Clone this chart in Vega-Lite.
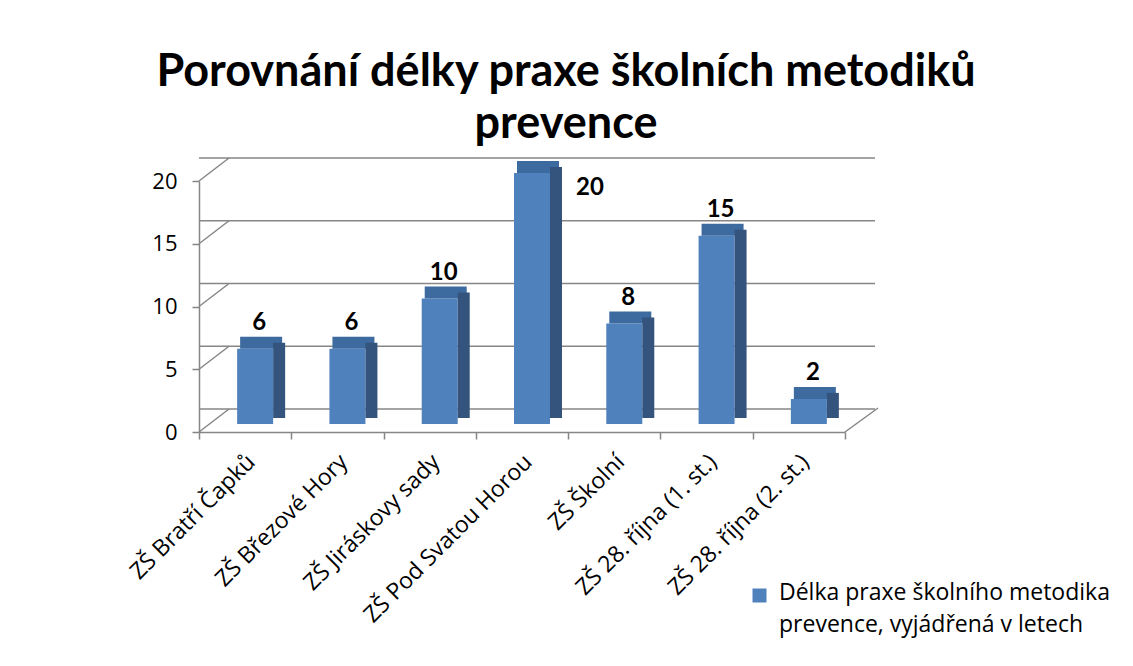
{
  "$schema": "https://vega.github.io/schema/vega-lite/v6.json",
  "autosize": {"type": "none"},
  "width": 646,
  "height": 251,
  "padding": {"left": 199, "top": 181, "right": 288, "bottom": 234},
  "background": "white",
  "title": {
    "text": ["Porovnání délky praxe školních metodiků", "prevence"],
    "font": "Lato",
    "fontSize": 45,
    "fontWeight": "bold",
    "color": "black",
    "lineHeight": 52,
    "anchor": "middle",
    "dx": 44,
    "offset": 10
  },
  "config": {
    "view": {"stroke": null},
    "font": "Open Sans",
    "axis": {"labelFont": "Open Sans", "labelColor": "black", "labelFontSize": 23, "domainColor": "#868686", "tickColor": "#868686", "domainWidth": 1.5, "tickWidth": 1.5}
  },
  "datasets": {
    "skoly": [
      {"skola": "ZŠ Bratří Čapků", "roky": 6, "serie": "Délka praxe"},
      {"skola": "ZŠ Březové Hory", "roky": 6, "serie": "Délka praxe"},
      {"skola": "ZŠ Jiráskovy sady", "roky": 10, "serie": "Délka praxe"},
      {"skola": "ZŠ Pod Svatou Horou", "roky": 20, "serie": "Délka praxe"},
      {"skola": "ZŠ Školní", "roky": 8, "serie": "Délka praxe"},
      {"skola": "ZŠ 28. října (1. st.)", "roky": 15, "serie": "Délka praxe"},
      {"skola": "ZŠ 28. října (2. st.)", "roky": 2, "serie": "Délka praxe"}
    ],
    "mrizka": [{"v": 0}, {"v": 5}, {"v": 10}, {"v": 15}, {"v": 20}]
  },
  "layer": [
    {
      "data": {"name": "mrizka"},
      "mark": {"type": "rule", "color": "#868686", "strokeWidth": 1.5, "xOffset": 30, "x2Offset": 30, "yOffset": -23},
      "encoding": {
        "y": {"field": "v", "type": "quantitative", "scale": {"domain": [0, 20], "nice": false},
          "axis": {"values": [0, 5, 10, 15, 20], "grid": false, "tickSize": 7, "labelPadding": 15, "labelFontSize": 22, "title": null}}
      }
    },
    {
      "data": {"name": "mrizka"},
      "mark": {"type": "rule", "color": "#868686", "strokeWidth": 1.5, "x2Offset": 30, "y2Offset": -23},
      "encoding": {
        "x": {"datum": "ZŠ Bratří Čapků", "type": "nominal", "bandPosition": 0},
        "x2": {"datum": "ZŠ Bratří Čapků", "bandPosition": 0},
        "y": {"field": "v", "type": "quantitative"},
        "y2": {"field": "v"}
      }
    },
    {
      "data": {"values": [{"v": 0}]},
      "mark": {"type": "rule", "color": "#868686", "strokeWidth": 1.5, "x2Offset": 33, "y2Offset": -24},
      "encoding": {
        "x": {"datum": "ZŠ 28. října (2. st.)", "type": "nominal", "bandPosition": 1},
        "x2": {"datum": "ZŠ 28. října (2. st.)", "bandPosition": 1},
        "y": {"field": "v", "type": "quantitative"},
        "y2": {"field": "v"}
      }
    },
    {
      "data": {"name": "skoly"},
      "layer": [
        {
          "mark": {"type": "bar", "width": 36, "xOffset": 10, "yOffset": -8},
          "encoding": {
            "x": {"field": "skola", "type": "nominal", "sort": null,
              "scale": {"domain": ["ZŠ Bratří Čapků", "ZŠ Březové Hory", "ZŠ Jiráskovy sady", "ZŠ Pod Svatou Horou", "ZŠ Školní", "ZŠ 28. října (1. st.)", "ZŠ 28. října (2. st.)"]},
              "axis": {"title": null, "labelAngle": -45, "labelAlign": "right", "labelBaseline": "middle", "labelPadding": 19, "labelOffset": 6, "tickSize": 7, "tickBand": "extent", "labelLimit": 400}},
            "y": {"field": "roky", "type": "quantitative"},
            "color": {"field": "serie", "type": "nominal", "scale": {"range": ["#4F81BD"]},
              "legend": {"title": null, "orient": "none", "legendX": 549, "legendY": 403, "symbolType": "square", "symbolSize": 196, "symbolStrokeWidth": 0, "labelFontSize": 23, "labelFont": "Open Sans", "labelColor": "black", "labelLimit": 0, "labelOffset": 8,
                "labelExpr": "['Délka praxe školního metodika', 'prevence, vyjádřená v letech']",
                "labelBaseline": "top",
                "encode": {"labels": {"update": {"lineHeight": {"value": 32}, "dy": {"value": -14}}}}}}
          }
        },
        {
          "mark": {"type": "tick", "color": "#3D6A9F", "opacity": 1, "size": 42, "thickness": 12, "xOffset": 16, "yOffset": -14},
          "encoding": {
            "x": {"field": "skola", "type": "nominal", "sort": null},
            "y": {"field": "roky", "type": "quantitative"}
          }
        },
        {
          "mark": {"type": "bar", "width": 12, "xOffset": 34, "yOffset": -14, "color": "#34547D"},
          "encoding": {
            "x": {"field": "skola", "type": "nominal", "sort": null},
            "y": {"field": "roky", "type": "quantitative"}
          }
        },
        {
          "transform": [{"filter": "datum.roky < 20"}],
          "mark": {"type": "text", "font": "Lato", "fontSize": 24, "fontWeight": "bold", "color": "black", "dx": 14, "dy": -34, "baseline": "middle"},
          "encoding": {
            "x": {"field": "skola", "type": "nominal", "sort": null},
            "y": {"field": "roky", "type": "quantitative"},
            "text": {"field": "roky"}
          }
        },
        {
          "transform": [{"filter": "datum.roky >= 20"}],
          "mark": {"type": "text", "font": "Lato", "fontSize": 24, "fontWeight": "bold", "color": "black", "dx": 68, "dy": 7, "baseline": "middle"},
          "encoding": {
            "x": {"field": "skola", "type": "nominal", "sort": null},
            "y": {"field": "roky", "type": "quantitative"},
            "text": {"field": "roky"}
          }
        }
      ]
    }
  ]
}
